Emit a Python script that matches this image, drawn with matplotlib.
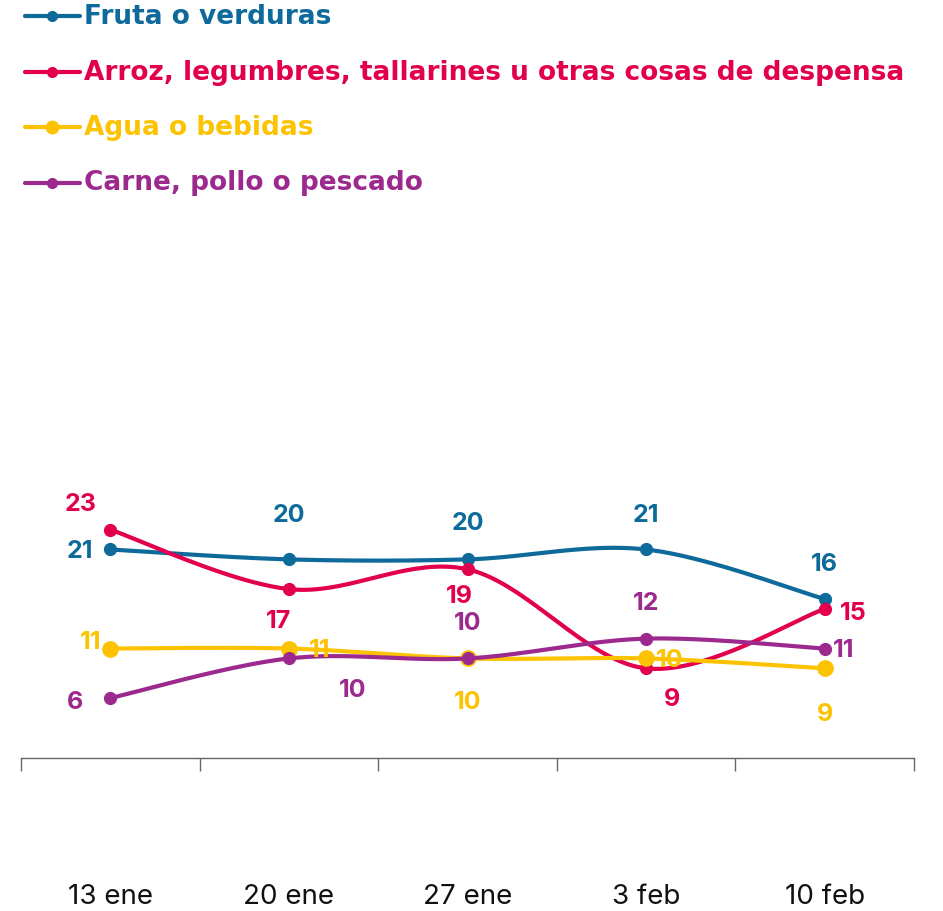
import numpy as np
import matplotlib
matplotlib.use("Agg")
import matplotlib.pyplot as plt

weeks = ["13 ene", "20 ene", "27 ene", "3 feb", "10 feb"]
names = [
    "Fruta o verduras",
    "Arroz, legumbres, tallarines u otras cosas de despensa",
    "Agua o bebidas",
    "Carne, pollo o pescado",
]
fruta = [21, 20, 20, 21, 16]
arroz = [23, 17, 19, 9, 15]
agua = [11, 11, 10, 10, 9]
carne = [6, 10, 10, 12, 11]
colors = ["#0d6a9b", "#e2004e", "#fdc200", "#9c2a8e"]

# label offsets in pixels (dx, dy up) per series and point
label_offsets = [
    [(-30, -1), (0, 45), (0, 37), (0, 35), (0, 36)],
    [(-30, 26), (-10, -31), (-8, -26), (26, -30), (29, -4)],
    [(-20, 7), (31, -1), (0, -43), (24, -1), (0, -45)],
    [(-35, -3), (64, -31), (0, 36), (0, 36), (19, -1)],
]

FONT = "Inter"
LEGEND_FONT = "DejaVu Sans"


def catmull_rom(x, y, n=40):
    x = np.asarray(x, float)
    y = np.asarray(y, float)
    px = np.concatenate([[x[0]], x, [x[-1]]])
    py = np.concatenate([[y[0]], y, [y[-1]]])
    xs, ys = [], []
    t = np.linspace(0, 1, n)
    for i in range(1, len(px) - 2):
        for p, out in ((px, xs), (py, ys)):
            p0, p1, p2, p3 = p[i - 1], p[i], p[i + 1], p[i + 2]
            out.append(0.5 * ((2 * p1) + (-p0 + p2) * t
                              + (2 * p0 - 5 * p1 + 4 * p2 - p3) * t ** 2
                              + (-p0 + 3 * p1 - 3 * p2 + p3) * t ** 3))
    return np.concatenate(xs), np.concatenate(ys)


fig = plt.figure(figsize=(9.43, 9.12), dpi=100)
ax = fig.add_axes([21 / 943, 1 - 758.5 / 912, 893 / 943, (758.5 - 233.5) / 912])
ax.set_xlim(-0.5, 4.5)
ax.set_ylim(0, 53)

x = np.arange(len(weeks))
series = [fruta, arroz, agua, carne]
for k, (vals, col) in enumerate(zip(series, colors)):
    sx, sy = catmull_rom(x, vals)
    ax.plot(sx, sy, color=col, lw=3, solid_capstyle="round", zorder=2 + k, clip_on=False)
    ms = 11 if k == 2 else 8.5
    ax.plot(x, vals, "o", color=col, ms=ms, zorder=2 + k, clip_on=False)
    for i, v in enumerate(vals):
        dx, dy = label_offsets[k][i]
        ax.annotate(str(v), (x[i], v), xytext=(dx * 0.72, dy * 0.72),
                    textcoords="offset points", ha="center", va="center",
                    color=col, fontsize=18, fontweight="bold", family=FONT,
                    zorder=10)

for s in ["top", "left", "right"]:
    ax.spines[s].set_visible(False)
ax.spines["bottom"].set_color("#666666")
ax.spines["bottom"].set_linewidth(1)
ax.set_yticks([])
ax.set_xticks(np.arange(-0.5, 5, 1))
ax.set_xticklabels([])
ax.tick_params(axis="x", length=9, color="#666666", width=1)
for i, w in enumerate(weeks):
    ax.text(i, -138 / 9.9, w, ha="center", va="center", fontsize=20,
            family=FONT, color="#111111")

# legend
for k, (name, col) in enumerate(zip(names, colors)):
    yy = 1 - (17 + 55.5 * k) / 912
    fig.add_artist(plt.Line2D([25 / 943, 80 / 943], [yy, yy], color=col, lw=3,
                              solid_capstyle="round"))
    ms = 9 if k == 2 else 7
    fig.add_artist(plt.Line2D([52 / 943], [yy], marker="o", color=col, ms=ms))
    fig.text(84 / 943, yy, name, ha="left", va="center", color=col,
             fontsize=19, fontweight="bold", family=LEGEND_FONT)

fig.savefig("out.png", dpi=100)
